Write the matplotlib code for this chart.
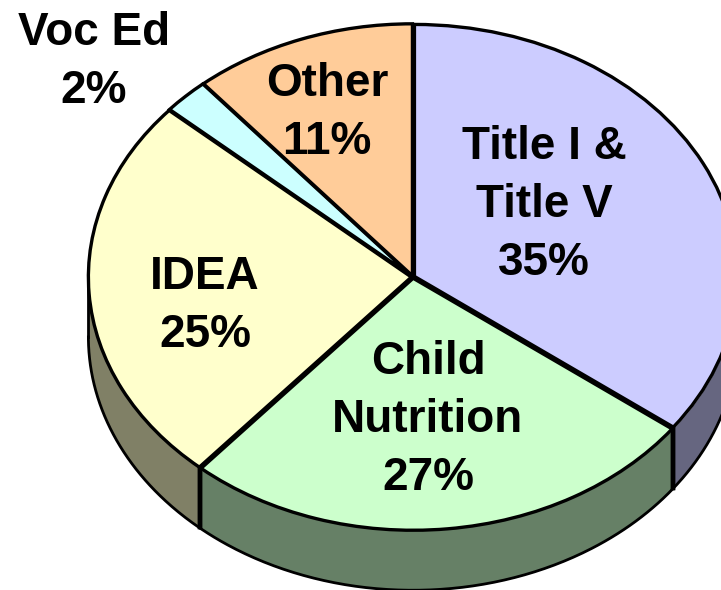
import numpy as np
import matplotlib
matplotlib.use('Agg')
import matplotlib.pyplot as plt

names = ['Title I &\nTitle V', 'Child\nNutrition', 'IDEA', 'Voc Ed', 'Other']
percents = [35, 27, 25, 2, 11]
# slice sizes, the printed labels are rounded differently
values = [35.2, 26.2, 25.1, 2.3, 11.2]
colors = ['#CCCCFF', '#CCFFCC', '#FFFFCC', '#CCFFFF', '#FFCC99']
side_colors = ['#666680', '#668066', '#808066', '#668080', '#806650']
label_pos = [(544, 205), (428, 420), (205, 306), (94, 62), (327, 113)]

W, H = 721, 590
cx, cy = 413, 277
rx, ry = 323, 252
depth = 60 / ry
wall_scale = 1.005

plt.rcParams['font.family'] = ['Liberation Sans', 'DejaVu Sans']

fig = plt.figure(figsize=(W / 100, H / 100), dpi=100)
ax = fig.add_axes([0, 0, 1, 1])

# side wall first, only the part of each slice facing the viewer
edges = np.cumsum([0] + values) / sum(values) * 2 * np.pi
for i in range(len(values)):
    a0 = max(edges[i], np.pi / 2)
    a1 = min(edges[i + 1], 3 * np.pi / 2)
    if a1 <= a0:
        continue
    t = np.linspace(a0, a1, 200)
    x = np.sin(t) * wall_scale
    y = np.cos(t) * wall_scale
    ax.fill_between(x, y, y - depth, color=side_colors[i], lw=0, zorder=1)
    ax.plot(x, y - depth, color='k', lw=2, zorder=2)
    for a in (a0, a1):
        if abs(a - np.pi / 2) > 1e-6 and abs(a - 3 * np.pi / 2) > 1e-6:
            ax.plot([np.sin(a) * wall_scale] * 2, [np.cos(a), np.cos(a) - depth], color='k', lw=3.2, zorder=2)

# left edge of the wall
ax.plot([-wall_scale, -wall_scale], [0, -depth], color='k', lw=2, zorder=2)

wedges, _ = ax.pie(values, colors=colors, startangle=90, counterclock=False,
                   explode=[0.005] * len(values),
                   wedgeprops={'edgecolor': 'k', 'linewidth': 2.4}, normalize=True)
for w in wedges:
    w.set_zorder(3)

ax.set_aspect('auto')
ax.set_xlim(-cx / rx, (W - cx) / rx)
ax.set_ylim(-(H - cy) / ry, cy / ry)
ax.axis('off')

for name, p, (px, py) in zip(names, percents, label_pos):
    fig.text(px / W, 1 - py / H, f'{name}\n{p}%', ha='center', va='center',
             fontsize=33, fontweight='bold', color='k', linespacing=1.41, zorder=5)

plt.savefig('out.png', dpi=100)
